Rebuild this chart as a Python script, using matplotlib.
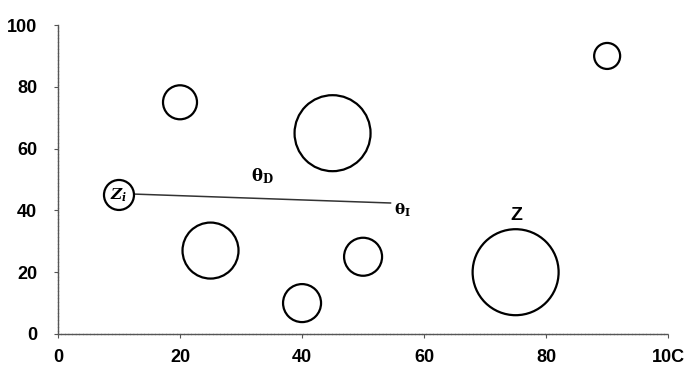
import matplotlib.pyplot as plt

plt.rcParams["mathtext.fontset"] = "custom"
plt.rcParams["mathtext.rm"] = "DejaVu Serif:bold"
plt.rcParams["mathtext.it"] = "DejaVu Serif:italic:bold"
plt.rcParams["mathtext.bf"] = "DejaVu Serif:bold"

# bubble data (x, y, size in px radius)
bubble_x = [10, 20, 45, 25, 40, 50, 75, 90]
bubble_y = [45, 75, 65, 27, 10, 25, 20, 90]
bubble_r = [15, 17, 38, 28, 19, 19, 43, 13]

# connecting line
line_x = [12.3, 54.5]
line_y = [45.3, 42.4]

xticks = [0, 20, 40, 60, 80, 100]
xtick_labels = ["0", "20", "40", "60", "80", "10C"]
yticks = [0, 20, 40, 60, 80, 100]

fig = plt.figure(figsize=(6.86, 3.74), dpi=100)
ax = fig.add_axes([0.0845, 0.107, 0.8895, 0.826])

sizes = [(2 * r * 0.72) ** 2 for r in bubble_r]
ax.scatter(bubble_x, bubble_y, s=sizes, facecolors="white",
           edgecolors="black", linewidths=1.6, zorder=3, clip_on=False)

ax.plot(line_x, line_y, color="#333333", lw=1.1, zorder=2)

ax.text(10, 45, r"$Z_i$", ha="center", va="center",
        fontsize=11, zorder=4)
ax.text(33.5, 51, r"$\mathrm{\theta_D}$", ha="center", va="center",
        fontsize=12)
ax.text(56.5, 40, r"$\mathrm{\theta_I}$", ha="center", va="center",
        fontsize=11)
ax.text(75.2, 38.5, "Z", ha="center", va="center", fontsize=14,
        fontweight="bold", family="Liberation Sans")

ax.set_xlim(0, 100)
ax.set_ylim(0, 100)
ax.set_xticks(xticks)
ax.set_xticklabels(xtick_labels)
ax.set_yticks(yticks)

for s in ["top", "right"]:
    ax.spines[s].set_visible(False)
for s in ["left", "bottom"]:
    ax.spines[s].set_color("#555555")
    ax.spines[s].set_linewidth(1.0)
    ax.spines[s].set_linestyle((0, (2, 0.6)))

ax.tick_params(axis="both", direction="out", length=3, color="#555555",
               labelsize=13)
ax.tick_params(axis="x", pad=8)
ax.tick_params(axis="y", pad=12)
for lab in ax.get_xticklabels() + ax.get_yticklabels():
    lab.set_fontweight("bold")
    lab.set_family("Liberation Sans")

fig.savefig("out.png", dpi=100)
